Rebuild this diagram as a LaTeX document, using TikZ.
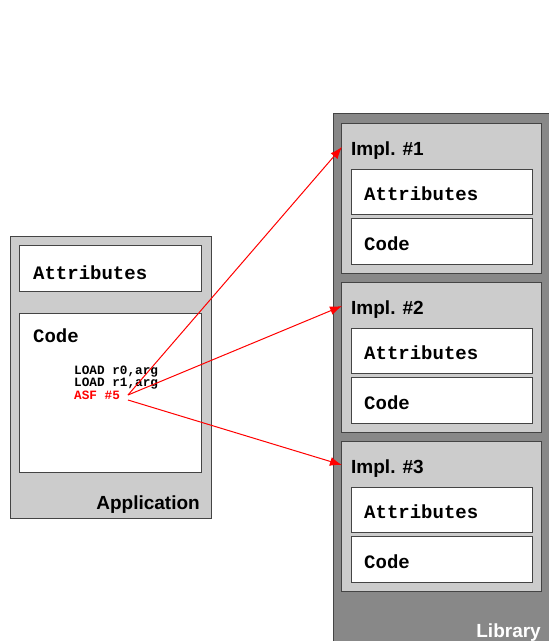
\documentclass[tikz,border=0pt]{standalone}
\usepackage{fontspec}
\setmainfont{Liberation Sans}
\newfontfamily\cour{Liberation Mono}
\usetikzlibrary{arrows.meta}
\definecolor{lightg}{HTML}{CCCCCC}
\definecolor{darkg}{HTML}{888888}
\definecolor{edgeg}{HTML}{444444}
\definecolor{arrred}{HTML}{FF0000}
\tikzset{
  outerbox/.style={draw=edgeg, line width=1pt},
  whitebox/.style={draw=edgeg, fill=white, line width=1pt},
  mono/.style={font=\cour\bfseries\fontsize{19}{19}\selectfont, anchor=base west, inner sep=0pt},
  small/.style={font=\cour\bfseries\fontsize{12.7}{12.7}\selectfont, anchor=base west, inner sep=0pt},
  title/.style={font=\bfseries\fontsize{19}{19}\selectfont, inner sep=0pt},
  link/.style={draw=arrred, line width=1pt, -{Latex[length=12pt,width=9pt]}}
}
\begin{document}
\begin{tikzpicture}[x=1pt,y=-1pt]
\useasboundingbox (0,0) rectangle (549,641);
% Application
\filldraw[outerbox, fill=lightg] (10,236) rectangle (211,518);
\filldraw[whitebox] (19,245) rectangle (201,291);
\filldraw[whitebox] (19,313) rectangle (201,472);
\node[mono] (aattr) at (33,279) {Attributes};
\node[mono] (acode) at (33,342) {Code};
\node[small] (l1) at (74,374) {LOAD r0,arg};
\node[small] (l2) at (74,386) {LOAD r1,arg};
\node[small, text=arrred] (asf) at (74,399) {ASF \#5};
\node[title, anchor=base east] (app) at (200,509) {Application};
% Library
\filldraw[outerbox, fill=darkg] (333,113) rectangle (552,645);
\node[title, anchor=base east, text=white] (lib) at (541,637) {Library};
\foreach \i/\dy in {1/0,2/159,3/318}{
  \begin{scope}[yshift=-\dy pt]
  \filldraw[outerbox, fill=lightg] (341,123) rectangle (541,273);
  \filldraw[whitebox] (351,169) rectangle (532,214);
  \filldraw[whitebox] (351,218) rectangle (532,264);
  \node[title, anchor=base west] (impl\i) at (351,155) {Impl. \#\i};
  \node[mono] (iattr\i) at (364,200) {Attributes};
  \node[mono] (icode\i) at (364,250) {Code};
  \coordinate (tip\i) at (342,147);
  \end{scope}
}
\coordinate (s1) at (128,395);
\coordinate (s3) at (128,400);
\draw[link] (s1) -- (tip1);
\draw[link] (s1) -- (tip2);
\draw[link] (s3) -- (tip3);
\end{tikzpicture}
\end{document}
